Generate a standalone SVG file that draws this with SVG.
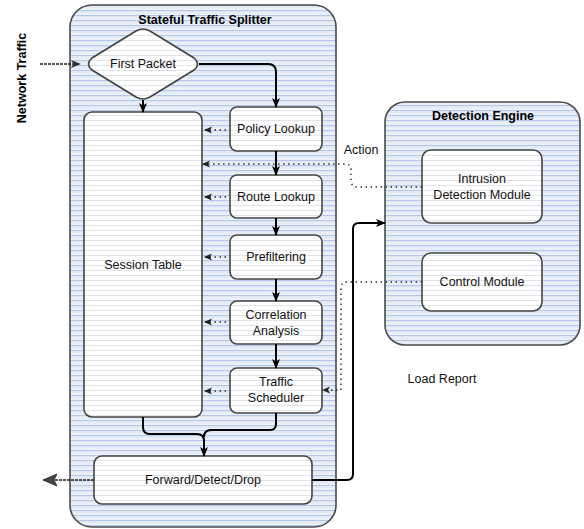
<svg xmlns="http://www.w3.org/2000/svg" width="584" height="529" viewBox="0 0 584 529">
  <defs>
    <!-- striped fills -->
    <pattern id="blueStripes" width="8" height="5" patternUnits="userSpaceOnUse">
      <rect width="8" height="5" fill="#edf2fa"/>
      <rect y="0" width="8" height="1.2" fill="#b3c8e8"/>
      <rect y="2.5" width="8" height="0.7" fill="#dbe4f3"/>
    </pattern>
    <pattern id="greyStripes" width="8" height="5" patternUnits="userSpaceOnUse">
      <rect width="8" height="5" fill="#ffffff"/>
      <rect y="0" width="8" height="1" fill="#e2e4e8"/>
    </pattern>
    <marker id="solidHead" markerWidth="10" markerHeight="10" refX="9" refY="5" orient="auto" markerUnits="userSpaceOnUse">
      <path d="M0,1 L10,5 L0,9 L2.5,5 Z" fill="#000"/>
    </marker>
    <marker id="dotHead" markerWidth="8" markerHeight="8" refX="7" refY="4" orient="auto" markerUnits="userSpaceOnUse">
      <path d="M0,0.5 L8,4 L0,7.5 L2,4 Z" fill="#222"/>
    </marker>
    <marker id="outHead" markerWidth="14" markerHeight="14" refX="13" refY="7" orient="auto" markerUnits="userSpaceOnUse">
      <path d="M0,1 L14,7 L0,13 L3,7 Z" fill="#444" stroke="#222" stroke-width="0.8"/>
    </marker>
    <marker id="inHead" markerWidth="10" markerHeight="10" refX="9" refY="5" orient="auto" markerUnits="userSpaceOnUse">
      <path d="M0,1 L10,5 L0,9 L2.5,5 Z" fill="#333"/>
    </marker>
  </defs>
  <style>
    .container { fill: url(#blueStripes); stroke: #4a4a4a; stroke-width: 1.6; }
    .node { fill: url(#greyStripes); stroke: #444; stroke-width: 1.6; }
    .label { font-family: "Liberation Sans", Arial, sans-serif; font-size: 12.5px; fill: #111; text-anchor: middle; }
    .title { font-family: "Liberation Sans", Arial, sans-serif; font-size: 12.5px; font-weight: bold; fill: #000; text-anchor: middle; }
    .flow { fill: none; stroke: #000; stroke-width: 2; }
    .dots { fill: none; stroke: #222; stroke-width: 1.4; stroke-dasharray: 1.4 3.6; }
    .dash { fill: none; stroke: #222; stroke-width: 1.6; stroke-dasharray: 3 1; }
  </style>

  <rect width="584" height="529" fill="#fff"/>

  <!-- containers -->
  <g id="splitter">
    <rect class="container" x="70" y="5" width="266" height="522" rx="22"/>
    <text class="title" x="205" y="24">Stateful Traffic Splitter</text>
  </g>
  <g id="engine">
    <rect class="container" x="385" y="102" width="195" height="243" rx="20"/>
    <text class="title" x="483" y="120">Detection Engine</text>
  </g>

  <!-- nodes -->
  <g id="first-packet">
    <path class="node" d="M136,31 Q143,27 150,31 L194,58 Q201,64 194,70 L150,97 Q143,101 136,97 L92,70 Q85,64 92,58 Z"/>
    <text class="label" x="143" y="68">First Packet</text>
  </g>
  <g id="session-table">
    <rect class="node" x="84" y="112" width="118" height="305" rx="8"/>
    <text class="label" x="143" y="269">Session Table</text>
  </g>
  <g id="policy-lookup">
    <rect class="node" x="230" y="107" width="92" height="44" rx="7"/>
    <text class="label" x="276" y="133">Policy Lookup</text>
  </g>
  <g id="route-lookup">
    <rect class="node" x="230" y="175" width="92" height="43" rx="7"/>
    <text class="label" x="276" y="201">Route Lookup</text>
  </g>
  <g id="prefiltering">
    <rect class="node" x="230" y="235" width="92" height="44" rx="7"/>
    <text class="label" x="276" y="261">Prefiltering</text>
  </g>
  <g id="correlation-analysis">
    <rect class="node" x="230" y="301" width="92" height="43" rx="7"/>
    <text class="label" x="276" y="319">Correlation</text>
    <text class="label" x="276" y="335">Analysis</text>
  </g>
  <g id="traffic-scheduler">
    <rect class="node" x="230" y="368" width="92" height="45" rx="7"/>
    <text class="label" x="276" y="386">Traffic</text>
    <text class="label" x="276" y="402">Scheduler</text>
  </g>
  <g id="forward-detect-drop">
    <rect class="node" x="94" y="456" width="218" height="48" rx="8"/>
    <text class="label" x="203" y="484">Forward/Detect/Drop</text>
  </g>
  <g id="intrusion-detection">
    <rect class="node" x="422" y="150" width="120" height="73" rx="9"/>
    <text class="label" x="482" y="183">Intrusion</text>
    <text class="label" x="482" y="199">Detection Module</text>
  </g>
  <g id="control-module">
    <rect class="node" x="422" y="253" width="120" height="58" rx="9"/>
    <text class="label" x="482" y="286">Control Module</text>
  </g>

  <!-- free labels -->
  <text class="title" transform="translate(26,78) rotate(-90)">Network Traffic</text>
  <text class="label" x="361" y="154">Action</text>
  <text class="label" x="442" y="383">Load Report</text>

  <!-- connectors -->
  <g id="connectors">
    <!-- incoming and outgoing traffic -->
    <path class="dash" d="M40,64 L80,64" marker-end="url(#inHead)"/>
    <path class="dash" d="M94,480 L44,480" marker-end="url(#outHead)"/>

    <!-- main processing flow -->
    <path class="flow" d="M199,64 L268,64 Q276,64 276,72 L276,107" marker-end="url(#solidHead)"/>
    <path class="flow" d="M143,100 L143,112" marker-end="url(#solidHead)"/>
    <path class="flow" d="M276,151 L276,175" marker-end="url(#solidHead)"/>
    <path class="flow" d="M276,218 L276,235" marker-end="url(#solidHead)"/>
    <path class="flow" d="M276,279 L276,301" marker-end="url(#solidHead)"/>
    <path class="flow" d="M276,344 L276,368" marker-end="url(#solidHead)"/>
    <path class="flow" d="M143,417 L143,427 Q143,434 150,434 L197,434 Q204,434 204,441 L204,456" marker-end="url(#solidHead)"/>
    <path class="flow" d="M276,413 L276,424 Q276,430 270,430 L211,430 Q204,430 204,437"/>
    <path class="flow" d="M312,480 L347,480 Q353,480 353,474 L353,229 Q353,223 359,223 L385,223" marker-end="url(#solidHead)"/>

    <!-- session table updates -->
    <path class="dots" d="M226,130 L205,130" marker-end="url(#dotHead)"/>
    <path class="dots" d="M226,197 L205,197" marker-end="url(#dotHead)"/>
    <path class="dots" d="M226,257 L205,257" marker-end="url(#dotHead)"/>
    <path class="dots" d="M226,322 L205,322" marker-end="url(#dotHead)"/>
    <path class="dots" d="M226,391 L205,391" marker-end="url(#dotHead)"/>

    <!-- action from intrusion detection -->
    <path class="dots" d="M422,187 L358,187 Q351,187 351,180 L351,170 Q351,164 345,164 L203,164" marker-end="url(#dotHead)"/>
    <!-- load report to control module -->
    <path class="dots" d="M422,282 L347,282 Q341,282 341,288 L341,390 L323,390" marker-end="url(#dotHead)"/>
  </g>
</svg>
